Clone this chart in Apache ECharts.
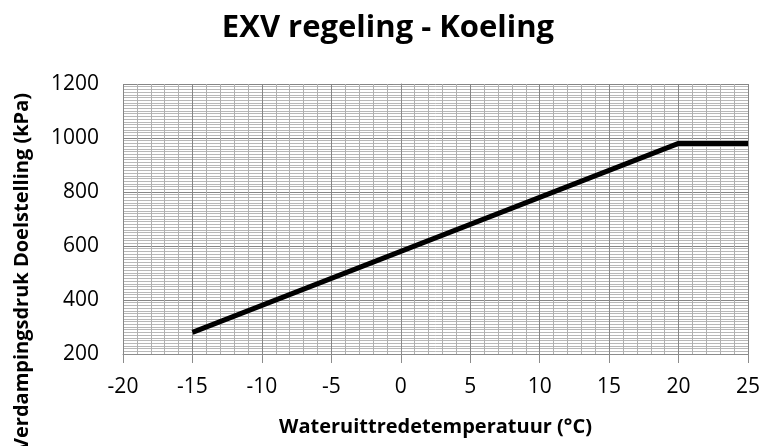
<!DOCTYPE html>
<html>
<head>
<meta charset="utf-8">
<script src="https://cdn.jsdelivr.net/npm/echarts@6/dist/echarts.min.js"></script>
<style>
  html, body { margin: 0; padding: 0; background: #fff; }
  #chart { width: 763px; height: 446px; }
</style>
</head>
<body>
<div id="chart"></div>
<script>
// setpoint curve: water outlet temperature (°C) -> evaporating pressure (kPa)
const temps = [-15, 20, 25]
const pressures = [280, 980, 980]

const xTicks = [-20, -15, -10, -5, 0, 5, 10, 15, 20, 25]
const yTicks = [200, 400, 600, 800, 1000, 1200]

const font = '"Open Sans", "Noto Sans", sans-serif'
const chart = echarts.init(document.getElementById('chart'))

chart.setOption({
    animation: false,
    title: {
        text: 'EXV regeling - Koeling',
        left: 383,
        top: 8,
        textAlign: 'center',
        textStyle: { fontFamily: font, fontSize: 31, fontWeight: 'bold', color: '#000' }
    },
    grid: { left: 123, right: 15, top: 84, bottom: 92 },
    xAxis: {
        type: 'value',
        min: xTicks[0],
        max: xTicks[xTicks.length - 1],
        interval: 5,
        name: 'Wateruittredetemperatuur (°C)',
        nameLocation: 'middle',
        nameGap: 63,
        nameTextStyle: { fontFamily: font, fontSize: 20, fontWeight: 'bold', color: '#000' },
        axisLine: { show: true, onZero: false, lineStyle: { color: '#8c8c8c', width: 1 } },
        axisTick: { show: true, length: 9, lineStyle: { color: '#8c8c8c' } },
        axisLabel: { margin: 23, fontFamily: font, fontSize: 21, color: '#000' },
        splitLine: { show: true, lineStyle: { color: '#868686', width: 1 } },
        minorTick: { show: false, splitNumber: 5 },
        minorSplitLine: { show: true, lineStyle: { color: '#b0b0b0', width: 1 } }
    },
    yAxis: {
        type: 'value',
        min: yTicks[0],
        max: yTicks[yTicks.length - 1],
        interval: 200,
        axisLine: { show: true, lineStyle: { color: '#8c8c8c', width: 1 } },
        axisTick: { show: true, length: 8, lineStyle: { color: '#8c8c8c' } },
        axisLabel: {
            margin: 24, fontFamily: font, fontSize: 21, color: '#000',
            formatter: v => String(v)
        },
        splitLine: { show: true, lineStyle: { color: '#868686', width: 1 } },
        minorTick: { show: false, splitNumber: 20 },
        minorSplitLine: { show: true, lineStyle: { color: '#b8b8b8', width: 1 } }
    },
    graphic: [{
        type: 'text',
        x: 22,
        y: 272,
        rotation: Math.PI / 2,
        style: {
            text: 'Verdampingsdruk Doelstelling (kPa)',
            fontFamily: font,
            fontSize: 20,
            fontWeight: 'bold',
            fill: '#000',
            align: 'center',
            verticalAlign: 'middle'
        }
    }],
    series: [{
        type: 'line',
        data: temps.map((t, i) => [t, pressures[i]]),
        symbol: 'none',
        lineStyle: { color: '#000', width: 5 }
    }]
})
</script>
</body>
</html>
